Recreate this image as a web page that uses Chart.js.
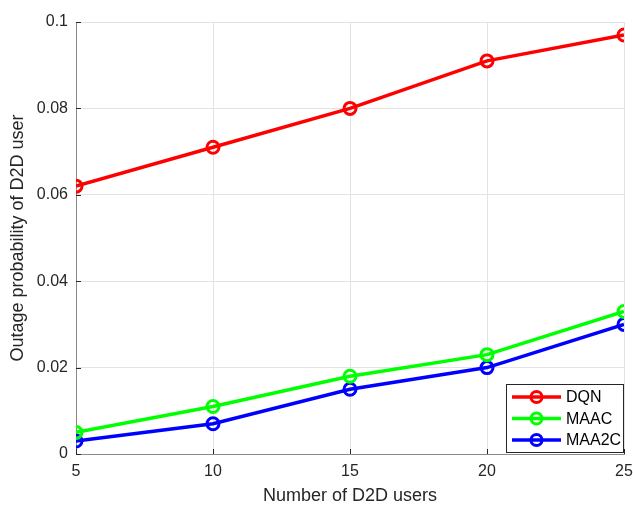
<!DOCTYPE html>
<html>
<head>
<meta charset="utf-8">
<script src="https://cdn.jsdelivr.net/npm/chart.js@4/dist/chart.umd.min.js"></script>
<style>
  html, body { margin: 0; padding: 0; background: #ffffff; }
  #wrap { width: 633px; height: 505px; position: relative; }
</style>
</head>
<body>
<div id="wrap"><canvas id="c" width="633" height="505"></canvas></div>
<script>
// Number of D2D users on the x axis
const users = [5, 10, 15, 20, 25];
// Outage probability of D2D user per scheme
const dqn   = [0.062, 0.071, 0.080, 0.091, 0.097];
const maac  = [0.005, 0.011, 0.018, 0.023, 0.033];
const maa2c = [0.003, 0.007, 0.015, 0.020, 0.030];
const seriesNames  = ['DQN', 'MAAC', 'MAA2C'];
const seriesColors = ['#ff0000', '#00ff00', '#0000ff'];
const yTicks = [0, 0.02, 0.04, 0.06, 0.08, 0.1];
const xTicks = [5, 10, 15, 20, 25];

const FONT = "'Liberation Sans', Arial, sans-serif";
const TEXT = '#262626';

function pts(vals) { return users.map((u, i) => ({ x: u, y: vals[i] })); }

const seriesValues = [dqn, maac, maa2c];
const datasets = seriesValues.map((vals, i) => ({
  label: seriesNames[i],
  data: pts(vals),
  borderColor: seriesColors[i],
  backgroundColor: seriesColors[i],
  borderWidth: 3.5,
  tension: 0,
  pointRadius: 6,
  pointHoverRadius: 6,
  pointBorderWidth: 3,
  pointBackgroundColor: 'rgba(0,0,0,0)',
  pointBorderColor: seriesColors[i]
}));

// Inward tick marks along the left and bottom axes
const inwardTicks = {
  id: 'inwardTicks',
  afterDatasetsDraw(chart) {
    const { ctx, chartArea: a, scales: { x, y } } = chart;
    ctx.save();
    ctx.strokeStyle = '#262626';
    ctx.lineWidth = 1;
    ctx.beginPath();
    xTicks.forEach(v => {
      const px = Math.round(x.getPixelForValue(v)) + 0.5;
      ctx.moveTo(px, a.bottom); ctx.lineTo(px, a.bottom - 5);
    });
    yTicks.forEach(v => {
      const py = Math.round(y.getPixelForValue(v)) + 0.5;
      ctx.moveTo(a.left, py); ctx.lineTo(a.left + 5, py);
    });
    ctx.stroke();
    ctx.restore();
  }
};

// Boxed legend in the lower right, each entry a line with a circle marker
const boxLegend = {
  id: 'boxLegend',
  afterDraw(chart) {
    const { ctx, chartArea: a } = chart;
    const w = 117, rowH = 21.5, h = 68;
    const x0 = a.right - w - 1, y0 = a.bottom - h - 2;
    ctx.save();
    ctx.fillStyle = '#ffffff';
    ctx.fillRect(x0, y0, w, h);
    ctx.strokeStyle = '#262626';
    ctx.lineWidth = 1;
    ctx.strokeRect(x0 + 0.5, y0 + 0.5, w, h);
    ctx.font = '16px ' + FONT;
    ctx.textBaseline = 'middle';
    ctx.textAlign = 'left';
    chart.data.datasets.forEach((ds, i) => {
      const cy = y0 + 13 + i * rowH;
      ctx.strokeStyle = ds.borderColor;
      ctx.lineWidth = 3.5;
      ctx.beginPath();
      ctx.moveTo(x0 + 6, cy); ctx.lineTo(x0 + 55, cy);
      ctx.stroke();
      ctx.lineWidth = 3;
      ctx.beginPath();
      ctx.arc(x0 + 30.5, cy, 5.5, 0, Math.PI * 2);
      ctx.stroke();
      ctx.fillStyle = '#000000';
      ctx.fillText(ds.label, x0 + 60, cy + 1);
    });
    ctx.restore();
  }
};

new Chart(document.getElementById('c'), {
  type: 'line',
  data: { datasets },
  options: {
    responsive: false,
    animation: false,
    layout: { padding: { left: 0, top: 22, right: 9, bottom: 0 } },
    plugins: { legend: { display: false }, tooltip: { enabled: false } },
    scales: {
      x: {
        type: 'linear',
        min: 5, max: 25,
        afterBuildTicks: s => { s.ticks = xTicks.map(v => ({ value: v })); },
        afterFit: s => { s.height = 51; s.paddingLeft = 0; s.paddingRight = 0; },
        grid: { color: '#e3e3e3', drawTicks: false, lineWidth: 1 },
        border: { color: '#8a8a8a', width: 1 },
        ticks: { color: TEXT, font: { family: FONT, size: 16 }, padding: 8, maxRotation: 0 },
        title: { display: true, text: 'Number of D2D users', color: TEXT,
                 font: { family: FONT, size: 18, lineHeight: 1 }, padding: { top: 0, bottom: 0 } }
      },
      y: {
        type: 'linear',
        min: 0, max: 0.1,
        afterBuildTicks: s => { s.ticks = yTicks.map(v => ({ value: v })); },
        afterFit: s => { s.width = 76; },
        grid: { color: '#e3e3e3', drawTicks: false, lineWidth: 1 },
        border: { color: '#8a8a8a', width: 1 },
        ticks: { color: TEXT, font: { family: FONT, size: 16 }, padding: 8,
                 callback: v => String(parseFloat(Number(v).toFixed(3))) },
        title: { display: true, text: 'Outage probability of D2D user', color: TEXT,
                 font: { family: FONT, size: 18, lineHeight: 1.2 }, padding: { top: 7, bottom: 7 } }
      }
    }
  },
  plugins: [inwardTicks, boxLegend]
});
</script>
</body>
</html>
